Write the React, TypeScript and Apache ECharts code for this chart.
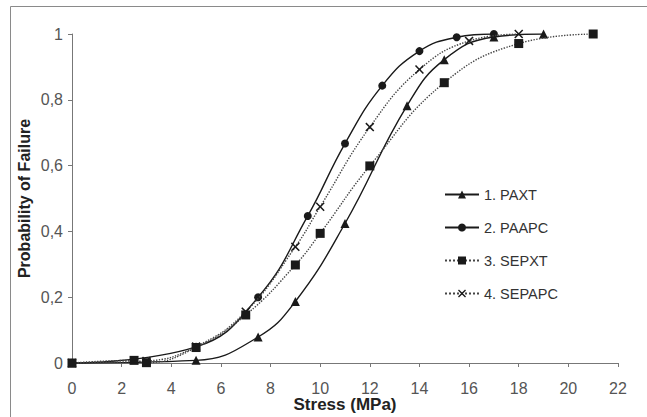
import React, { useEffect, useRef } from "react";
import * as echarts from "echarts";

const seriesNames = ["1. PAXT", "2. PAAPC", "3. SEPXT", "4. SEPAPC"];
const paxt: [number, number][] = [
  [0, 0], [5, 0.008], [7.5, 0.079], [9, 0.187], [11, 0.424], [13.5, 0.782], [15, 0.922], [17, 0.991], [19, 1.0],
];
const paapc: [number, number][] = [
  [0, 0], [5, 0.049], [7.5, 0.2], [9.5, 0.447], [11, 0.667], [12.5, 0.843], [14, 0.948], [15.5, 0.99], [17, 1.0],
];
const sepxt: [number, number][] = [
  [0, 0], [2.5, 0.008], [3, 0.001], [5, 0.047], [7, 0.146], [9, 0.298], [10, 0.394], [12, 0.599], [15, 0.852], [18, 0.971], [21, 1.0],
];
const sepapc: [number, number][] = [
  [0, 0], [3, 0.006], [5, 0.05], [7, 0.156], [9, 0.353], [10, 0.475], [12, 0.717], [14, 0.892], [16, 0.979], [18, 1.0],
];
const xTicks = { min: 0, max: 22, interval: 2 };
const yTicks = { min: 0, max: 1, interval: 0.2 };

const crossPath =
  "path://M0,1.2 L1.2,0 L5,3.8 L8.8,0 L10,1.2 L6.2,5 L10,8.8 L8.8,10 L5,6.2 L1.2,10 L0,8.8 L3.8,5 Z";

const FONT = "Liberation Sans, Arial, sans-serif";

export default function App() {
  const ref = useRef<HTMLDivElement>(null);
  useEffect(() => {
    if (!ref.current) return;
    const chart = echarts.init(ref.current, undefined, { renderer: "svg" });
    const lineColor = "#1a1a1a";
    const mk = (
      name: string,
      data: [number, number][],
      symbol: string,
      size: number,
      dotted: boolean,
      z: number
    ) => ({
      name,
      type: "line",
      data,
      smooth: 0.45,
      symbol,
      symbolSize: size,
      showAllSymbol: true,
      z,
      itemStyle: { color: lineColor },
      lineStyle: { color: dotted ? "#444" : lineColor, width: 1.4, type: dotted ? "dotted" : "solid" },
    });
    chart.setOption({
      animation: false,
      backgroundColor: "#fff",
      textStyle: { fontFamily: FONT },
      graphic: [
        {
          type: "rect",
          shape: { x: 10.5, y: 6.5, width: 700, height: 500 },
          style: { fill: "none", stroke: "#8a8a8a", lineWidth: 1 },
          silent: true,
        },
      ],
      grid: { left: 72, right: 29, top: 34, bottom: 54, outerBoundsMode: "none", containLabel: false },
      legend: {
        orient: "vertical",
        left: 439,
        top: 182,
        itemWidth: 34,
        itemHeight: 10,
        itemGap: 18,
        textStyle: { fontSize: 14.5, color: "#333", fontFamily: FONT },
        data: seriesNames,
      },
      xAxis: {
        type: "value",
        min: xTicks.min,
        max: xTicks.max,
        interval: xTicks.interval,
        name: "Stress (MPa)",
        nameLocation: "middle",
        nameGap: 33,
        nameMoveOverlap: false,
        nameTextStyle: { fontSize: 17, fontWeight: "bold", color: "#222" },
        axisLine: { lineStyle: { color: "#777" } },
        axisTick: { show: true, length: 4, lineStyle: { color: "#777" } },
        axisLabel: { fontSize: 16, color: "#555", margin: 17 },
        splitLine: { show: false },
      },
      yAxis: {
        type: "value",
        min: yTicks.min,
        max: yTicks.max,
        interval: yTicks.interval,
        name: "Probability of Failure",
        nameLocation: "middle",
        nameGap: 40,
        nameMoveOverlap: false,
        nameTextStyle: { fontSize: 16, fontWeight: "bold", color: "#222" },
        axisLine: { show: true, lineStyle: { color: "#777" } },
        axisTick: { show: true, length: 4, lineStyle: { color: "#777" } },
        axisLabel: {
          fontSize: 16,
          color: "#555",
          margin: 9,
          formatter: (v: number) => String(Math.round(v * 10) / 10).replace(".", ","),
        },
        splitLine: { show: false },
      },
      series: [
        mk(seriesNames[0], paxt, "triangle", 9, false, 2),
        mk(seriesNames[1], paapc, "circle", 8, false, 2),
        mk(seriesNames[2], sepxt, "rect", 9, true, 4),
        mk(seriesNames[3], sepapc, crossPath, 9, true, 3),
      ],
    });
    return () => chart.dispose();
  }, []);
  return (
    <div
      ref={ref}
      style={{ position: "fixed", left: 0, top: 0, width: 647, height: 417, background: "#fff" }}
    />
  );
}
